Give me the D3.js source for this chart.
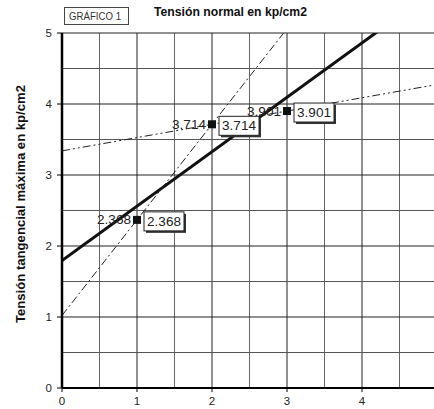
<!DOCTYPE html>
<html><head><meta charset="utf-8">
<script src="https://cdn.jsdelivr.net/npm/d3@7"></script>
<style>body{margin:0;background:#fff}svg{display:block;font-family:"Liberation Sans",Arial,sans-serif}</style>
</head><body>
<svg id="c" width="434" height="409"></svg>
<script>
const xs = [1, 2, 3];
const ys = [2.368, 3.714, 3.901];
const labels = ["2.368", "3.714", "3.901"];
const xTicks = [0, 1, 2, 3, 4];
const yTicks = [0, 1, 2, 3, 4, 5];
const title = "Tensión normal en kp/cm2";
const yTitle = "Tensión tangencial máxima en kp/cm2";
const tag = "GRÁFICO 1";

const svg = d3.select("#c");
const x = d3.scaleLinear().domain([0, 5]).range([62, 437]);
const y = d3.scaleLinear().domain([0, 5]).range([388, 33]);

// grid
const g = svg.append("g");
for (let v = 0.5; v <= 5; v += 0.5) {
  g.append("line").attr("x1", x(v)).attr("x2", x(v)).attr("y1", y(0)).attr("y2", y(5))
    .attr("stroke", Number.isInteger(v) ? "#222" : "#666").attr("stroke-width", 1);
}
for (let v = 0.5; v <= 5; v += 0.5) {
  g.append("line").attr("x1", x(0)).attr("x2", x(5)).attr("y1", y(v)).attr("y2", y(v))
    .attr("stroke", Number.isInteger(v) ? "#222" : "#555").attr("stroke-width", 1);
}

// clip
svg.append("clipPath").attr("id", "pc").append("rect")
  .attr("x", x(0)).attr("y", y(5)).attr("width", x(5) - x(0)).attr("height", y(0) - y(5));
const lines = svg.append("g").attr("clip-path", "url(#pc)");

// regression line
const mx = d3.mean(xs), my = d3.mean(ys);
const slope = d3.sum(xs.map((v, i) => (v - mx) * (ys[i] - my))) / d3.sum(xs.map(v => (v - mx) ** 2));
const icpt = my - slope * mx;
const line = d3.line().x(d => x(d[0])).y(d => y(d[1]));
lines.append("path").attr("d", line([[0, icpt], [5, icpt + 5 * slope]]))
  .attr("stroke", "#111").attr("stroke-width", 3).attr("fill", "none");

// segment lines through consecutive points
function seg(i, dash) {
  const s = (ys[i + 1] - ys[i]) / (xs[i + 1] - xs[i]);
  const b = ys[i] - s * xs[i];
  lines.append("path").attr("d", line([[0, b], [5, b + 5 * s]]))
    .attr("stroke", "#222").attr("stroke-width", 1).attr("fill", "none")
    .attr("stroke-dasharray", dash);
}
seg(0, "8,3,2,3");
seg(1, "8,3,2,3,2,3");

// axes
svg.append("line").attr("x1", x(0)).attr("x2", x(0)).attr("y1", y(0)).attr("y2", y(5))
  .attr("stroke", "#000").attr("stroke-width", 2.5);
svg.append("line").attr("x1", x(0)).attr("x2", x(5)).attr("y1", y(0)).attr("y2", y(0))
  .attr("stroke", "#000").attr("stroke-width", 2);

yTicks.forEach(v => {
  svg.append("line").attr("x1", x(0) - 5).attr("x2", x(0)).attr("y1", y(v)).attr("y2", y(v)).attr("stroke", "#000");
  svg.append("text").attr("x", 52).attr("y", y(v) + 4).attr("text-anchor", "end")
    .attr("font-size", 11.5).attr("fill", "#222").text(v);
});
xTicks.forEach(v => {
  svg.append("line").attr("x1", x(v)).attr("x2", x(v)).attr("y1", y(0)).attr("y2", y(0) + 4).attr("stroke", "#000");
  svg.append("text").attr("x", x(v)).attr("y", 405).attr("text-anchor", "middle")
    .attr("font-size", 11.5).attr("fill", "#222").text(v);
});

// points and labels
const lblW = 34;
xs.forEach((v, i) => {
  const px = x(v), py = y(ys[i]);
  svg.append("rect").attr("x", px - 4).attr("y", py - 4).attr("width", 8).attr("height", 8).attr("fill", "#111");
  svg.append("text").attr("x", px - 6 - lblW).attr("y", py + 4.5)
    .attr("font-size", 12).attr("fill", "#222")
    .attr("textLength", lblW).attr("lengthAdjust", "spacingAndGlyphs").text(labels[i]);
  const bx = px + 7, bw = 40, bh = 19, by = py - 8;
  svg.append("rect").attr("x", bx + 2).attr("y", by + 2).attr("width", bw).attr("height", bh).attr("fill", "#333");
  svg.append("rect").attr("x", bx).attr("y", by).attr("width", bw).attr("height", bh)
    .attr("fill", "#fff").attr("stroke", "#222").attr("stroke-width", 1);
  svg.append("text").attr("x", bx + 3).attr("y", py + 6)
    .attr("font-size", 12).attr("fill", "#222")
    .attr("textLength", lblW).attr("lengthAdjust", "spacingAndGlyphs").text(labels[i]);
});

// title box
svg.append("rect").attr("x", 64.5).attr("y", 7.5).attr("width", 64).attr("height", 17)
  .attr("fill", "#fff").attr("stroke", "#444");
svg.append("text").attr("x", 69).attr("y", 20)
  .attr("font-size", 10).attr("fill", "#333")
  .attr("textLength", 52).attr("lengthAdjust", "spacingAndGlyphs").text(tag);
svg.append("text").attr("x", 154).attr("y", 16).attr("font-size", 12).attr("font-weight", "bold")
  .attr("fill", "#111").attr("textLength", 153).attr("lengthAdjust", "spacingAndGlyphs").text(title);
svg.append("text").attr("transform", "translate(25,204) rotate(-90)")
  .attr("text-anchor", "middle").attr("font-size", 12).attr("font-weight", "bold")
  .attr("fill", "#111").attr("textLength", 238).attr("lengthAdjust", "spacingAndGlyphs").text(yTitle);
</script>
</body></html>
